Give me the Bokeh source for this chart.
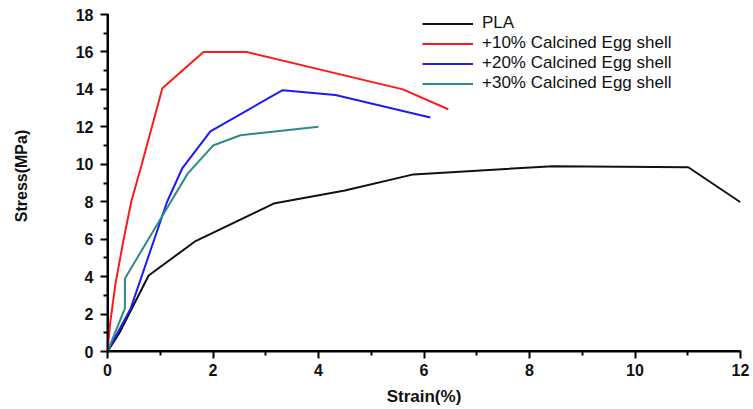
from bokeh.plotting import figure
from bokeh.models import Range1d, Legend, LegendItem, FixedTicker
from bokeh.embed import file_html
from bokeh.resources import INLINE

# Data (strain %, stress MPa)
pla_x = [0, 0.22, 0.78, 1.67, 3.15, 4.5, 5.8, 8.44, 11.01, 12.0]
pla_y = [0, 0.96, 4.06, 5.9, 7.9, 8.6, 9.46, 9.9, 9.84, 7.97]

ce10_x = [0, 0.05, 0.15, 0.3, 0.45, 0.65, 1.04, 1.82, 2.64, 5.6, 6.46]
ce10_y = [0, 1.5, 3.6, 5.9, 8.0, 10.0, 14.06, 16.0, 16.0, 14.0, 12.94]

ce20_x = [0, 0.44, 1.13, 1.42, 1.95, 3.32, 4.32, 6.12]
ce20_y = [0, 2.3, 8.0, 9.8, 11.76, 13.96, 13.7, 12.5]

ce30_x = [0, 0.33, 0.33, 1.2, 1.52, 2.0, 2.52, 4.0]
ce30_y = [0, 2.3, 3.9, 8.0, 9.5, 11.0, 11.55, 12.0]

labels = ["PLA", "+10% Calcined Egg shell", "+20% Calcined Egg shell", "+30% Calcined Egg shell"]
colors = ["#111111", "#ff1a1a", "#1a1aff", "#2a8c84"]
x_ticks = [0, 2, 4, 6, 8, 10, 12]
x_minor = [1, 3, 5, 7, 9, 11]
y_ticks = [0, 2, 4, 6, 8, 10, 12, 14, 16, 18]
y_minor = [1, 3, 5, 7, 9, 11, 13, 15, 17]

# frame top at page y=0; value 18 sits 14px below it (337px per 18 units)
y_top = 18 + 14 * 18 / 337

p = figure(width=753, height=409, output_backend="svg", toolbar_location=None,
           x_range=Range1d(0, 12), y_range=Range1d(0, y_top),
           min_border_left=107, min_border_right=13, min_border_top=0, min_border_bottom=58)
p.grid.visible = False
p.outline_line_alpha = 0

# axis spines drawn as glyphs too (fallback), from the tick arrays
p.segment(x0=[x_ticks[0], x_ticks[0]], y0=[y_ticks[0], y_ticks[0]],
          x1=[x_ticks[0], x_ticks[-1]], y1=[y_ticks[-1], y_ticks[0]],
          line_color="black", line_width=3)

series = [(pla_x, pla_y), (ce10_x, ce10_y), (ce20_x, ce20_y), (ce30_x, ce30_y)]
items = []
for (xs, ys), lab, col in zip(series, labels, colors):
    r = p.line(xs, ys, line_color=col, line_width=2)
    items.append(LegendItem(label=lab, renderers=[r]))

legend = Legend(items=items, location=(315, 258), border_line_color=None,
                background_fill_alpha=0, padding=0, spacing=0, margin=0,
                glyph_width=51, glyph_height=19, label_height=19, label_standoff=9,
                label_text_font="Liberation Sans", label_text_font_size="17px",
                label_text_color="#111111")
p.add_layout(legend, "center")

for ax in (p.xaxis[0], p.yaxis[0]):
    ax.axis_line_width = 2
    ax.axis_line_color = "black"
    ax.major_tick_line_width = 2
    ax.minor_tick_line_width = 2
    ax.major_tick_line_color = "black"
    ax.minor_tick_line_color = "black"
    ax.major_tick_in = 1
    ax.minor_tick_in = 1
    ax.major_tick_out = 7
    ax.minor_tick_out = 4
    ax.major_label_text_font = "Liberation Sans"
    ax.major_label_text_font_style = "bold"
    ax.major_label_text_font_size = "16px"
    ax.major_label_text_color = "#111111"
    ax.axis_label_text_font = "Liberation Sans"
    ax.axis_label_text_font_style = "bold"
    ax.axis_label_text_color = "#111111"

p.xaxis[0].ticker = FixedTicker(ticks=x_ticks, minor_ticks=x_minor)
p.yaxis[0].ticker = FixedTicker(ticks=y_ticks, minor_ticks=y_minor)
p.yaxis[0].bounds = (0, 18)
p.xaxis.axis_label = "Strain(%)"
p.yaxis.axis_label = "Stress(MPa)"
p.xaxis.axis_label_text_font_size = "17px"
p.yaxis.axis_label_text_font_size = "16px"
p.xaxis.major_label_standoff = 5
p.yaxis.major_label_standoff = 7
p.xaxis.axis_label_standoff = 8
p.yaxis.axis_label_standoff = 43

open("out.html", "w").write(file_html(p, INLINE))
